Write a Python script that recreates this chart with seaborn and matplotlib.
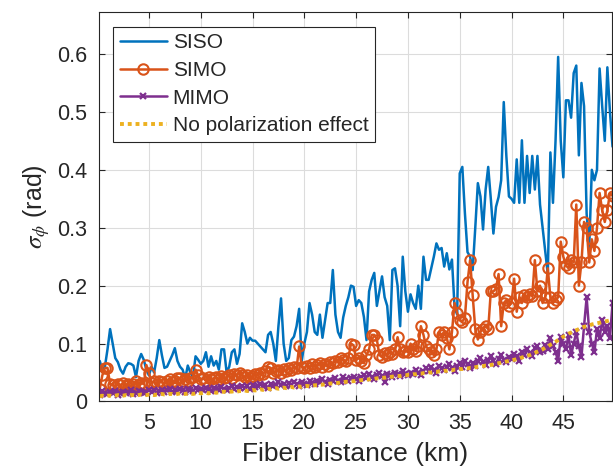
import matplotlib
matplotlib.use("Agg")
import matplotlib.pyplot as plt
import seaborn as sns
import numpy as np
import pandas as pd

# fiber distance (km), one sample every 0.25 km
distance_km = np.arange(1, 200) * 0.25

siso = [
    0.07, 0.055, 0.06, 0.09, 0.125, 0.1, 0.075, 0.068, 0.055, 0.048,
    0.06, 0.066, 0.065, 0.062, 0.042, 0.07, 0.082, 0.072, 0.055, 0.045,
    0.06, 0.05, 0.075, 0.106, 0.08, 0.058, 0.06, 0.07, 0.08, 0.092,
    0.07, 0.06, 0.055, 0.04, 0.062, 0.05, 0.042, 0.078, 0.072, 0.065,
    0.07, 0.085, 0.06, 0.078, 0.062, 0.07, 0.055, 0.09, 0.09, 0.05,
    0.06, 0.085, 0.09, 0.065, 0.082, 0.135, 0.12, 0.1, 0.11, 0.105,
    0.105, 0.1, 0.095, 0.09, 0.085, 0.115, 0.12, 0.1, 0.07, 0.13,
    0.178, 0.1, 0.07, 0.075, 0.106, 0.112, 0.13, 0.16, 0.07, 0.1,
    0.12, 0.17, 0.15, 0.12, 0.115, 0.15, 0.11, 0.14, 0.17, 0.17,
    0.227, 0.15, 0.12, 0.11, 0.145, 0.165, 0.18, 0.2, 0.198, 0.165,
    0.175, 0.17, 0.146, 0.106, 0.19, 0.21, 0.222, 0.165, 0.19, 0.216,
    0.18, 0.165, 0.106, 0.227, 0.23, 0.2, 0.13, 0.25, 0.19, 0.155,
    0.185, 0.17, 0.16, 0.2, 0.16, 0.25, 0.21, 0.21, 0.23, 0.25,
    0.273, 0.262, 0.265, 0.233, 0.256, 0.228, 0.245, 0.163, 0.15, 0.394,
    0.405, 0.325, 0.258, 0.25, 0.227, 0.3, 0.377, 0.354, 0.297, 0.366,
    0.405, 0.35, 0.29, 0.336, 0.353, 0.382, 0.517, 0.424, 0.354, 0.35,
    0.343, 0.418, 0.343, 0.451, 0.343, 0.424, 0.36, 0.424, 0.366, 0.424,
    0.34, 0.3, 0.26, 0.22, 0.43, 0.343, 0.451, 0.595, 0.45, 0.387,
    0.52, 0.52, 0.49, 0.567, 0.58, 0.425, 0.55, 0.51, 0.324, 0.267,
    0.4, 0.382, 0.4, 0.575, 0.51, 0.45, 0.577, 0.5, 0.44,
]

simo = [
    0.022, 0.045, 0.058, 0.058, 0.03, 0.028, 0.025, 0.03, 0.028, 0.032,
    0.027, 0.03, 0.026, 0.03, 0.035, 0.028, 0.032, 0.03, 0.063, 0.05,
    0.032, 0.035, 0.03, 0.036, 0.034, 0.03, 0.035, 0.038, 0.033, 0.036,
    0.04, 0.04, 0.035, 0.038, 0.036, 0.04, 0.042, 0.055, 0.045, 0.038,
    0.04, 0.036, 0.042, 0.038, 0.04, 0.042, 0.038, 0.044, 0.04, 0.042,
    0.045, 0.04, 0.048, 0.046, 0.05, 0.045, 0.042, 0.046, 0.04, 0.044,
    0.048, 0.045, 0.05, 0.048, 0.052, 0.06, 0.058, 0.05, 0.053, 0.055,
    0.05, 0.056, 0.052, 0.058, 0.055, 0.06, 0.057, 0.095, 0.06, 0.058,
    0.062, 0.058, 0.064, 0.06, 0.063, 0.066, 0.06, 0.065, 0.062, 0.068,
    0.066, 0.07, 0.068, 0.075, 0.072, 0.07, 0.075, 0.1, 0.097, 0.072,
    0.075, 0.07, 0.066, 0.08, 0.09, 0.115, 0.115, 0.107, 0.08, 0.077,
    0.083, 0.08, 0.085, 0.082, 0.09, 0.111, 0.09, 0.085, 0.088, 0.085,
    0.1, 0.09, 0.088, 0.095, 0.13, 0.115, 0.095, 0.09, 0.085, 0.08,
    0.09, 0.12, 0.115, 0.12, 0.11, 0.09, 0.12, 0.17, 0.153, 0.14,
    0.138, 0.145, 0.206, 0.244, 0.183, 0.125, 0.107, 0.12, 0.125, 0.13,
    0.125, 0.19, 0.19, 0.195, 0.22, 0.13, 0.17, 0.175, 0.165, 0.17,
    0.212, 0.155, 0.18, 0.17, 0.184, 0.18, 0.186, 0.182, 0.244, 0.19,
    0.2, 0.17, 0.18, 0.23, 0.18, 0.17, 0.175, 0.18, 0.276, 0.25,
    0.235, 0.23, 0.244, 0.24, 0.34, 0.2, 0.24, 0.31, 0.3, 0.24,
    0.28, 0.26, 0.3, 0.36, 0.33, 0.31, 0.33, 0.36, 0.355,
]

mimo = [
    0.012, 0.018, 0.015, 0.013, 0.016, 0.014, 0.018, 0.012, 0.015, 0.017,
    0.014, 0.016, 0.019, 0.013, 0.015, 0.018, 0.016, 0.014, 0.017, 0.02,
    0.016, 0.019, 0.015, 0.018, 0.02, 0.016, 0.019, 0.022, 0.017, 0.02,
    0.018, 0.021, 0.019, 0.017, 0.022, 0.02, 0.018, 0.023, 0.02, 0.021,
    0.019, 0.023, 0.021, 0.018, 0.024, 0.022, 0.02, 0.025, 0.022, 0.019,
    0.024, 0.026, 0.022, 0.025, 0.023, 0.027, 0.024, 0.026, 0.022, 0.028,
    0.025, 0.027, 0.03, 0.026, 0.028, 0.024, 0.031, 0.027, 0.029, 0.033,
    0.028, 0.03, 0.026, 0.032, 0.029, 0.034, 0.03, 0.027, 0.033, 0.031,
    0.029, 0.035, 0.032, 0.03, 0.036, 0.033, 0.038, 0.034, 0.031, 0.037,
    0.035, 0.04, 0.036, 0.033, 0.042, 0.038, 0.035, 0.04, 0.043, 0.039,
    0.036, 0.042, 0.045, 0.04, 0.047, 0.043, 0.038, 0.046, 0.05, 0.044,
    0.033, 0.048, 0.045, 0.042, 0.05, 0.047, 0.044, 0.052, 0.048, 0.045,
    0.05, 0.047, 0.055, 0.05, 0.046, 0.053, 0.058, 0.052, 0.06, 0.055,
    0.05, 0.062, 0.057, 0.054, 0.06, 0.064, 0.058, 0.052, 0.061, 0.066,
    0.06, 0.07, 0.064, 0.058, 0.067, 0.062, 0.07, 0.075, 0.068, 0.063,
    0.072, 0.078, 0.07, 0.065, 0.074, 0.08, 0.071, 0.068, 0.077, 0.073,
    0.082, 0.078, 0.07, 0.085, 0.08, 0.09, 0.084, 0.078, 0.092, 0.095,
    0.085, 0.088, 0.098, 0.09, 0.11, 0.095, 0.085, 0.07, 0.112, 0.1,
    0.09, 0.115, 0.08, 0.1, 0.12, 0.095, 0.077, 0.13, 0.18, 0.12,
    0.1, 0.085, 0.125, 0.11, 0.14, 0.12, 0.13, 0.11, 0.17,
]

no_pol = [
    0.009, 0.010, 0.009, 0.010, 0.010, 0.009, 0.010, 0.011, 0.010, 0.010,
    0.011, 0.010, 0.011, 0.011, 0.010, 0.011, 0.012, 0.011, 0.011, 0.012,
    0.012, 0.011, 0.012, 0.012, 0.013, 0.012, 0.012, 0.013, 0.013, 0.012,
    0.013, 0.014, 0.013, 0.013, 0.014, 0.014, 0.013, 0.014, 0.015, 0.014,
    0.015, 0.015, 0.014, 0.015, 0.016, 0.015, 0.016, 0.016, 0.017, 0.016,
    0.017, 0.017, 0.018, 0.017, 0.018, 0.018, 0.019, 0.018, 0.019, 0.020,
    0.019, 0.020, 0.021, 0.020, 0.021, 0.022, 0.021, 0.022, 0.023, 0.022,
    0.023, 0.024, 0.023, 0.024, 0.025, 0.024, 0.025, 0.026, 0.025, 0.026,
    0.027, 0.026, 0.027, 0.028, 0.028, 0.029, 0.029, 0.030, 0.030, 0.031,
    0.031, 0.032, 0.032, 0.033, 0.033, 0.034, 0.034, 0.035, 0.035, 0.036,
    0.036, 0.037, 0.037, 0.038, 0.038, 0.039, 0.039, 0.040, 0.040, 0.041,
    0.041, 0.042, 0.042, 0.043, 0.043, 0.044, 0.044, 0.045, 0.045, 0.046,
    0.046, 0.047, 0.047, 0.048, 0.048, 0.049, 0.049, 0.050, 0.050, 0.051,
    0.051, 0.052, 0.052, 0.053, 0.053, 0.054, 0.054, 0.055, 0.055, 0.056,
    0.056, 0.057, 0.057, 0.058, 0.058, 0.059, 0.060, 0.060, 0.061, 0.062,
    0.062, 0.063, 0.064, 0.065, 0.066, 0.067, 0.068, 0.069, 0.070, 0.071,
    0.072, 0.073, 0.074, 0.076, 0.077, 0.079, 0.080, 0.082, 0.084, 0.086,
    0.088, 0.090, 0.093, 0.095, 0.098, 0.100, 0.103, 0.106, 0.109, 0.112,
    0.114, 0.117, 0.119, 0.121, 0.123, 0.125, 0.127, 0.129, 0.130, 0.131,
    0.133, 0.134, 0.135, 0.136, 0.137, 0.138, 0.139, 0.140, 0.141,
]

x_ticks = [5, 10, 15, 20, 25, 30, 35, 40, 45]
y_ticks = [0, 0.1, 0.2, 0.3, 0.4, 0.5, 0.6]
y_tick_labels = ["0", "0.1", "0.2", "0.3", "0.4", "0.5", "0.6"]

sns.set_style("ticks")
plt.rcParams["font.family"] = ["Liberation Sans", "DejaVu Sans"]
plt.rcParams["mathtext.fontset"] = "stix"

fig = plt.figure(figsize=(6.13, 4.71), dpi=100)
ax = fig.add_axes([0.161, 0.1476, 0.8374, 0.8263])

sns.lineplot(x=distance_km, y=siso, color="#0072BD", linewidth=1.8,
             label="SISO", ax=ax)
sns.lineplot(x=distance_km, y=simo, color="#D95319", linewidth=1.8,
             marker="o", markersize=7.5, markerfacecolor="none",
             markeredgecolor="#D95319", markeredgewidth=1.5,
             label="SIMO", ax=ax)
sns.lineplot(x=distance_km, y=mimo, color="#7E2F8E", linewidth=1.8,
             marker="x", markersize=5, markeredgecolor="#7E2F8E",
             markeredgewidth=1.6, label="MIMO", ax=ax)
sns.lineplot(x=distance_km, y=no_pol, color="#EDB120", linewidth=2.8,
             linestyle=(0, (1.0, 1.0)), label="No polarization effect", ax=ax)

ax.set_xlim(0.15, 49.7)
ax.set_ylim(0, 0.672)
ax.set_xticks(x_ticks)
ax.set_yticks(y_ticks)
ax.set_yticklabels(y_tick_labels)
ax.grid(True, color="#dcdcdc", linewidth=0.8)
ax.set_axisbelow(True)
ax.tick_params(direction="in", length=4, width=0.8, top=True, right=True,
               labelsize=15.5, colors="#262626", pad=8)
for side in ["top", "bottom", "left", "right"]:
    ax.spines[side].set_visible(True)
    ax.spines[side].set_color("#262626")
    ax.spines[side].set_linewidth(0.8)

ax.set_xlabel("Fiber distance (km)", fontsize=19, color="#262626", labelpad=6)
ax.set_ylabel(r"$\sigma_{\phi}$ (rad)", fontsize=18, color="#262626", labelpad=4)

leg = ax.legend(loc="upper left", fontsize=15, frameon=True, fancybox=False,
                framealpha=1, edgecolor="#262626", handlelength=2.3,
                handletextpad=0.25, borderpad=0.3, labelspacing=0.42,
                borderaxespad=0.7)
leg.get_frame().set_linewidth(0.8)

fig.savefig("out.png", dpi=100)
